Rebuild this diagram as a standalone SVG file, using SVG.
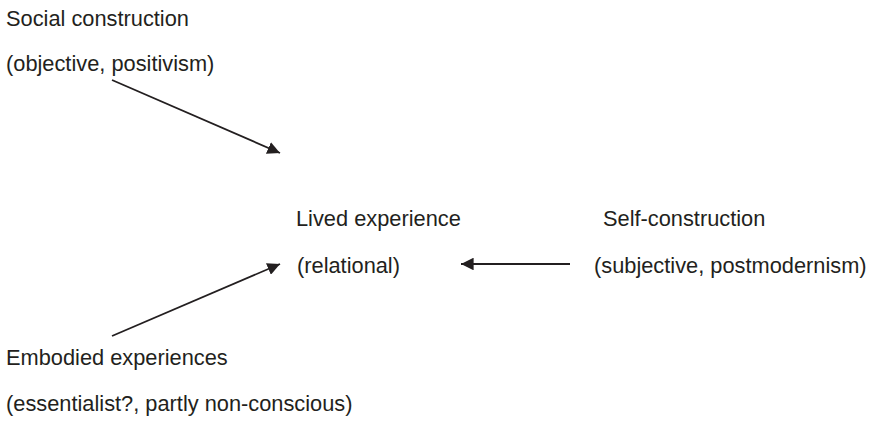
<svg xmlns="http://www.w3.org/2000/svg" width="872" height="422" viewBox="0 0 872 422">
<style>
text{font-family:"Liberation Sans",Arial,sans-serif;font-size:21.8px;fill:#231f20}
.c{stroke:#231f20;stroke-width:1.8;fill:none}
</style>
<defs>
<marker id="ah" viewBox="0 0 10 10" refX="10" refY="5" markerWidth="7" markerHeight="7" markerUnits="strokeWidth" orient="auto">
<path d="M0,0 L10,5 L0,10 z" fill="#231f20"/>
</marker>
</defs>
<rect width="872" height="422" fill="#fff"/>
<g id="social"><text x="6" y="26">Social construction</text><text x="6" y="71">(objective, positivism)</text></g>
<g id="lived"><text x="296" y="226">Lived experience</text><text x="297" y="273">(relational)</text></g>
<g id="self"><text x="603" y="226">Self-construction</text><text x="594" y="273">(subjective, postmodernism)</text></g>
<g id="embodied"><text x="6" y="365">Embodied experiences</text><text x="6" y="411">(essentialist?, partly non-conscious)</text></g>
<g id="connectors">
<line class="c" x1="112" y1="80" x2="280" y2="153" marker-end="url(#ah)"/>
<line class="c" x1="112" y1="336" x2="280" y2="264" marker-end="url(#ah)"/>
<line class="c" x1="570" y1="264" x2="461" y2="264" marker-end="url(#ah)"/>
</g>
</svg>
